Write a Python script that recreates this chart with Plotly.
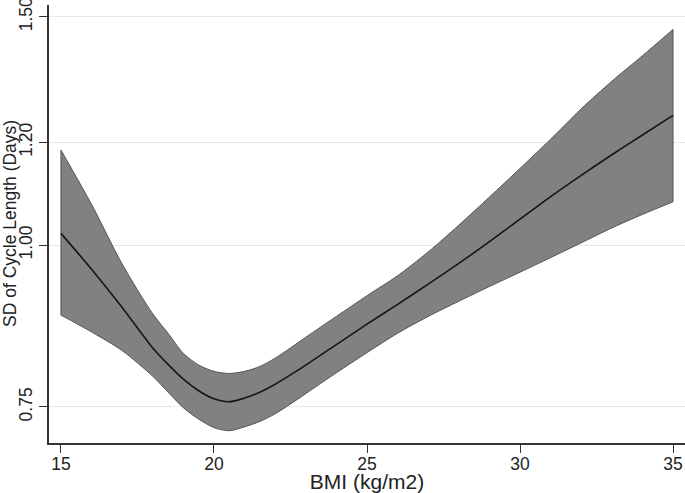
import plotly.graph_objects as go
import numpy as np

# BMI grid (kg/m2)
bmi = [15, 16, 17, 18, 18.5, 19, 19.5, 20, 20.5, 21, 21.5, 22, 22.5, 23, 24, 25,
       26, 27, 28, 29, 30, 31, 32, 33, 34, 35]

# fitted SD of cycle length (days)
sd_fit = [1.021, 0.958, 0.895, 0.833, 0.809, 0.788, 0.772, 0.761, 0.757, 0.762, 0.770,
          0.781, 0.794, 0.808, 0.838, 0.869, 0.900, 0.933, 0.968, 1.006, 1.047,
          1.090, 1.132, 1.174, 1.216, 1.259]

# 95% confidence band
sd_upper = [1.184, 1.075, 0.967, 0.885, 0.855, 0.825, 0.808, 0.799, 0.796, 0.799, 0.806,
            0.818, 0.833, 0.849, 0.881, 0.914, 0.947, 0.988, 1.036, 1.089, 1.146,
            1.207, 1.274, 1.338, 1.400, 1.467]
sd_lower = [0.883, 0.857, 0.829, 0.792, 0.770, 0.749, 0.734, 0.723, 0.719, 0.724, 0.731,
            0.741, 0.754, 0.768, 0.797, 0.826, 0.855, 0.881, 0.905, 0.929, 0.953,
            0.978, 1.004, 1.031, 1.056, 1.080]

y_ticks = [0.75, 1.00, 1.20, 1.50]
y_ticktext = ["0.75", "1.00", "1.20", "1.50"]
x_ticks = [15, 20, 25, 30, 35]

band_fill = "rgb(128,129,131)"
band_edge = "rgb(85,85,87)"
font = "Liberation Sans, Arial, Helvetica, sans-serif"
smooth = dict(shape="spline", smoothing=0.8)

fig = go.Figure()

# confidence band: lower edge, then upper edge filled down to it
fig.add_trace(go.Scatter(
    x=bmi, y=sd_lower, mode="lines",
    line=dict(color=band_edge, width=1, **smooth),
    hoverinfo="skip", showlegend=False,
))
fig.add_trace(go.Scatter(
    x=bmi, y=sd_upper, mode="lines", fill="tonexty", fillcolor=band_fill,
    line=dict(color=band_edge, width=1, **smooth),
    hoverinfo="skip", showlegend=False,
))
# straight ends of the band
for i in (0, -1):
    fig.add_trace(go.Scatter(
        x=[bmi[i], bmi[i]], y=[sd_lower[i], sd_upper[i]], mode="lines",
        line=dict(color=band_edge, width=1),
        hoverinfo="skip", showlegend=False,
    ))

fig.add_trace(go.Scatter(
    x=bmi, y=sd_fit, mode="lines",
    line=dict(color="#161616", width=1.6, **smooth),
    showlegend=False,
))

fig.update_layout(
    width=685, height=493,
    margin=dict(l=49, r=0, t=5, b=50),
    paper_bgcolor="white", plot_bgcolor="white",
    font=dict(family=font, size=17.5, color="#222222"),
)

fig.update_xaxes(
    range=[14.61, 35.39], tickvals=x_ticks,
    ticks="outside", ticklen=8, tickwidth=1.2, tickcolor="#333333",
    ticklabelstandoff=-4,
    showline=True, linecolor="#333333", linewidth=1.5,
    showgrid=False, zeroline=False,
    title=dict(text="BMI (kg/m2)", standoff=1),
    automargin=False,
)

fig.update_yaxes(
    type="log",
    range=[np.log10(0.7035), np.log10(1.532)],
    tickvals=y_ticks, ticktext=y_ticktext, tickangle=-90,
    ticklabeloverflow="allow",
    ticks="outside", ticklen=8, tickwidth=1.2, tickcolor="#333333",
    showline=True, linecolor="#333333", linewidth=1.5,
    showgrid=True, gridcolor="#e9e9e9", gridwidth=1.2,
    zeroline=False,
    automargin=False,
)

# y title placed by hand, a little further left than plotly puts it
fig.add_annotation(
    text="SD of Cycle Length (Days)", textangle=-90,
    xref="paper", yref="paper", x=0, y=0.5,
    xanchor="center", yanchor="middle", xshift=-39,
    showarrow=False, font=dict(size=17.5),
)

# drop the page's default body margin so the chart fills the window
fig.write_html(
    "out.html",
    config={"displayModeBar": False},
    post_script="document.body.style.margin='0px';",
)
